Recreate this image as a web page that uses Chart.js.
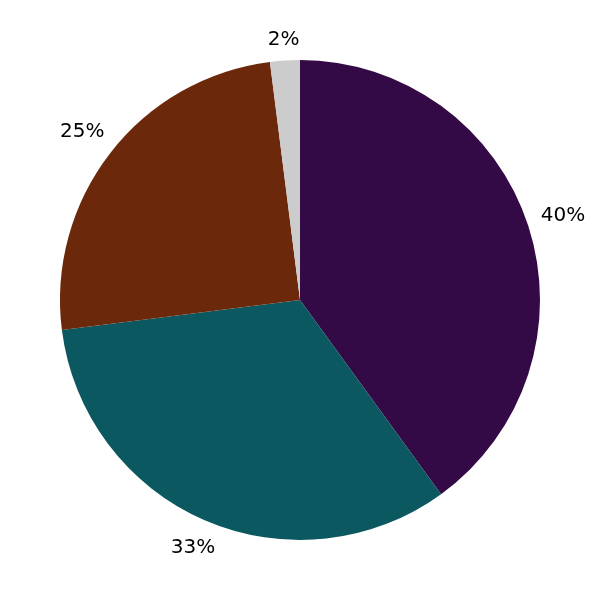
<!DOCTYPE html>
<html>
<head>
<meta charset="utf-8">
<script src="https://cdn.jsdelivr.net/npm/chart.js@4/dist/chart.umd.min.js"></script>
<style>
html,body{margin:0;padding:0;background:#fff;}
#wrap{width:600px;height:600px;}
</style>
</head>
<body>
<div id="wrap"><canvas id="c" width="600" height="600"></canvas></div>
<script>
const categories = ["A", "B", "C", "D"];
const values = [40, 33, 25, 2];
const labelsText = ["40%", "33%", "25%", "2%"];
const colors = ["#330a45", "#0b5861", "#6b280b", "#cccccc"];

const labelPlugin = {
  id: 'outLabels',
  afterDatasetsDraw(chart) {
    const ctx = chart.ctx;
    const meta = chart.getDatasetMeta(0);
    ctx.save();
    ctx.font = '20px "DejaVu Sans"';
    ctx.fillStyle = '#000';
    ctx.textAlign = 'center';
    ctx.textBaseline = 'middle';
    meta.data.forEach((arc, i) => {
      const p = arc.getProps(['x','y','startAngle','endAngle','outerRadius'], true);
      const mid = (p.startAngle + p.endAngle) / 2;
      const c = Math.cos(mid), s = Math.sin(mid);
      const w = ctx.measureText(labelsText[i]).width;
      const h = 16;
      const r = p.outerRadius + 13 + Math.abs(c) * w / 2 + Math.abs(s) * h / 2;
      ctx.fillText(labelsText[i], p.x + c * r, p.y + s * r + 1);
    });
    ctx.restore();
  }
};

new Chart(document.getElementById('c'), {
  type: 'pie',
  data: {
    labels: categories,
    datasets: [{ data: values, backgroundColor: colors, borderWidth: 0 }]
  },
  options: {
    responsive: false,
    animation: false,
    layout: { padding: 60 },
    plugins: { legend: { display: false }, tooltip: { enabled: false } }
  },
  plugins: [labelPlugin]
});
</script>
</body>
</html>
